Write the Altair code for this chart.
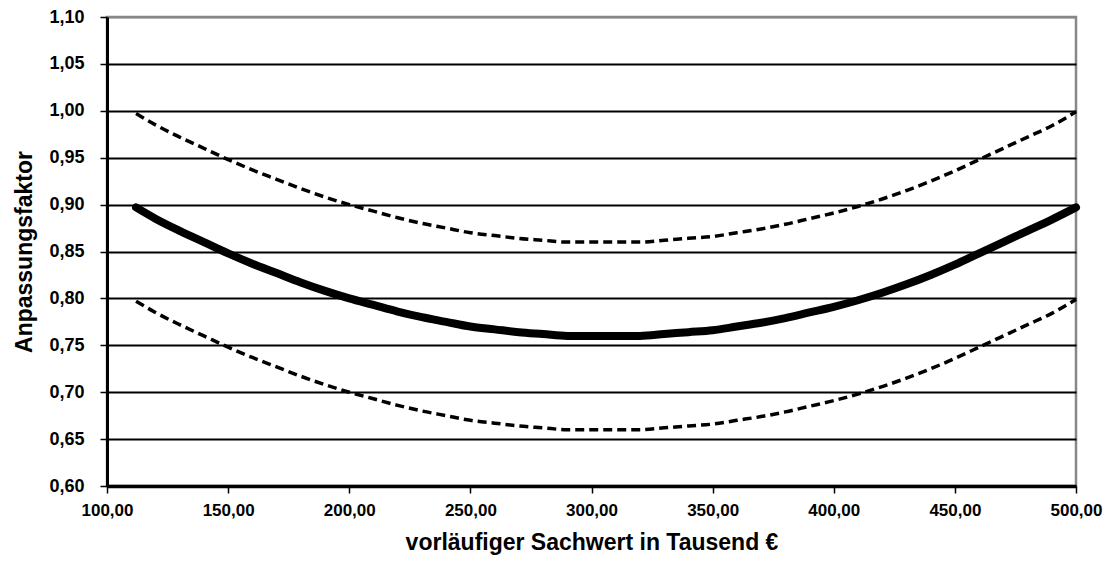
import altair as alt
import pandas as pd

x_vals = [112, 120, 130, 140, 150, 160, 170, 180, 190, 200, 210, 220, 230, 240, 250,
          260, 270, 280, 290, 300, 310, 320, 330, 340, 350, 360, 370, 380, 390, 400,
          410, 420, 430, 440, 450, 460, 470, 480, 490, 500]
mid_vals = [0.897, 0.885, 0.872, 0.860, 0.848, 0.837, 0.827, 0.817, 0.808, 0.800,
            0.793, 0.786, 0.780, 0.775, 0.770, 0.767, 0.764, 0.762, 0.760, 0.760,
            0.760, 0.760, 0.762, 0.764, 0.766, 0.770, 0.774, 0.779, 0.785, 0.791,
            0.798, 0.806, 0.815, 0.825, 0.836, 0.848, 0.860, 0.872, 0.884, 0.897]
upper_vals = [0.997, 0.985, 0.972, 0.960, 0.948, 0.937, 0.927, 0.917, 0.908, 0.900,
              0.893, 0.886, 0.880, 0.875, 0.870, 0.867, 0.864, 0.862, 0.860, 0.860,
              0.860, 0.860, 0.862, 0.864, 0.866, 0.870, 0.874, 0.879, 0.885, 0.891,
              0.898, 0.906, 0.915, 0.925, 0.936, 0.948, 0.960, 0.972, 0.984, 0.999]
lower_vals = [0.797, 0.785, 0.772, 0.760, 0.748, 0.737, 0.727, 0.717, 0.708, 0.700,
              0.693, 0.686, 0.680, 0.675, 0.670, 0.667, 0.664, 0.662, 0.660, 0.660,
              0.660, 0.660, 0.662, 0.664, 0.666, 0.670, 0.674, 0.679, 0.685, 0.691,
              0.698, 0.706, 0.715, 0.725, 0.736, 0.748, 0.760, 0.772, 0.784, 0.799]

y_ticks = [0.60, 0.65, 0.70, 0.75, 0.80, 0.85, 0.90, 0.95, 1.00, 1.05, 1.10]
x_ticks = [100, 150, 200, 250, 300, 350, 400, 450, 500]

rows = []
for s, vals in [("mid", mid_vals), ("upper", upper_vals), ("lower", lower_vals)]:
    for xv, yv in zip(x_vals, vals):
        rows.append({"x": xv, "y": yv, "s": s})
df = pd.DataFrame(rows)

FONT = "Liberation Sans"

xenc = alt.X("x:Q", scale=alt.Scale(domain=[100, 500], nice=False, zero=False),
             axis=alt.Axis(values=x_ticks, title="vorläufiger Sachwert in Tausend €",
                           labelExpr="replace(format(datum.value, '.2f'), '.', ',')",
                           grid=False, domainColor="black", domainWidth=3.5,
                           tickColor="black", tickWidth=1.5, tickSize=7,
                           labelFont=FONT, labelFontWeight="bold", labelFontSize=17,
                           labelColor="black", labelPadding=9, labelFlush=False,
                           titleFont=FONT, titleFontWeight="bold", titleFontSize=23,
                           titleColor="black", titlePadding=13))
yenc = alt.Y("y:Q", scale=alt.Scale(domain=[0.6, 1.1], nice=False, zero=False),
             axis=alt.Axis(values=y_ticks, title="Anpassungsfaktor",
                           labelExpr="replace(format(datum.value, '.2f'), '.', ',')",
                           grid=True,
                           gridColor={"condition": {"test": "datum.value > 1.09", "value": "#888888"},
                                      "value": "black"},
                           gridWidth=2, gridOpacity=1,
                           domainColor="black", domainWidth=3,
                           tickColor="black", tickWidth=1.5, tickSize=7,
                           labelFont=FONT, labelFontWeight="bold", labelFontSize=18,
                           labelColor="black", labelPadding=16,
                           titleFont=FONT, titleFontWeight="bold", titleFontSize=23,
                           titleColor="black", titlePadding=12))

base = alt.Chart(df)
mid = base.transform_filter(alt.datum.s == "mid").mark_line(
    color="black", strokeWidth=8, interpolate="monotone", strokeCap="round").encode(x=xenc, y=yenc)
up = base.transform_filter(alt.datum.s == "upper").mark_line(
    color="black", strokeWidth=3.5, strokeDash=[9, 5], interpolate="monotone").encode(x="x:Q", y="y:Q")
lo = base.transform_filter(alt.datum.s == "lower").mark_line(
    color="black", strokeWidth=3.5, strokeDash=[9, 5], interpolate="monotone").encode(x="x:Q", y="y:Q")

chart = alt.layer(mid, up, lo).properties(
    width=969, height=469,
    autosize=alt.AutoSizeParams(type="none"),
    padding={"left": 99, "top": 9, "right": 34, "bottom": 78},
    background="white",
).configure_view(stroke="#888888", strokeWidth=2.5)

chart.save("out.html", embed_options={"renderer": "svg", "actions": False})
